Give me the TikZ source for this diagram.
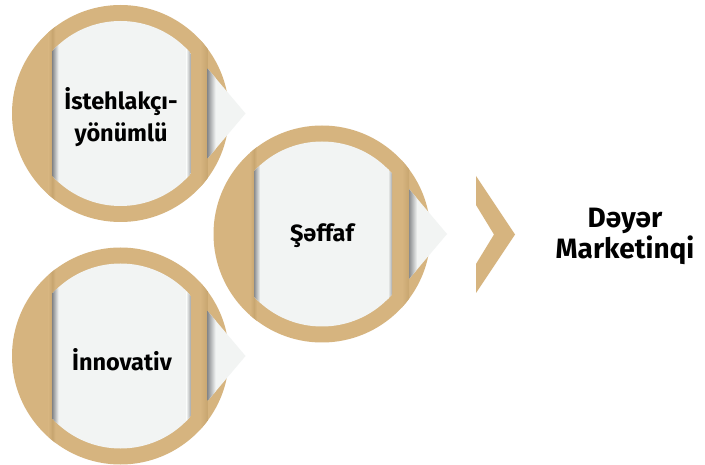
\documentclass[tikz,border=0pt]{standalone}
\usepackage{fontspec}
\setmainfont{Fira Sans}
\newcommand\mypagesize{\fontsize{23.5}{32}\selectfont}
\newcommand\mytitlesize{\fontsize{28}{31}\selectfont}
\definecolor{tanc}{HTML}{D6B47F}
\definecolor{tandark}{HTML}{C8A670}
\definecolor{pagec}{HTML}{F2F4F3}
\definecolor{shadowc}{HTML}{8A8C8E}
\tikzset{
  ringdisc/.style={circle, fill=tanc, minimum size=217pt, inner sep=0pt},
  pagelabel/.style={font=\bfseries\mypagesize, align=center, text=black, inner sep=0pt},
  titlelabel/.style={font=\bfseries\mytitlesize, align=center, text=black, inner sep=0pt},
}
\begin{document}
\begin{tikzpicture}[x=1pt,y=-1pt]
\useasboundingbox (0,0) rectangle (705,465);
\fill[white] (0,0) rectangle (705,465);

\foreach \cx/\cy/\n in {120.5/113.5/1, 322/234/2, 120.5/356/3} {
  \node[ringdisc] (c\n) at (\cx,\cy) {};
  % arrow tip of the page
  \fill[pagec] (\cx+87,\cy-45) -- (\cx+125,\cy) -- (\cx+87,\cy+45) -- cycle;
  % folds on the tan ring
  \begin{scope}
    \clip (\cx,\cy) circle (108.5pt);
    \shade[left color=tanc, right color=tandark] (\cx-72,\cy-110) rectangle (\cx-68,\cy+110);
    \shade[left color=tandark, right color=tanc] (\cx-68,\cy-110) rectangle (\cx-65,\cy+110);
    \shade[left color=tanc, right color=tandark] (\cx+80,\cy-110) rectangle (\cx+87,\cy+110);
  \end{scope}
  % the page
  \begin{scope}
    \clip (\cx,\cy) circle (92.5pt);
    \fill[pagec] (\cx-68,\cy-95) rectangle (\cx+70,\cy+95);
    \shade[left color=shadowc, right color=pagec] (\cx-68,\cy-95) rectangle (\cx-62,\cy+95);
    \shade[left color=pagec, right color=shadowc!70!pagec] (\cx+66,\cy-95) rectangle (\cx+70,\cy+95);
  \end{scope}
  \begin{scope}
    \clip (\cx+87,\cy-45) -- (\cx+125,\cy) -- (\cx+87,\cy+45) -- cycle;
    \shade[left color=shadowc, right color=pagec] (\cx+87,\cy-46) rectangle (\cx+95,\cy+46);
  \end{scope}
}

\node[pagelabel] (t1) at (121,117) {İstehlakçı-\\yönümlü};
\node[pagelabel] (t2) at (322,236) {Şəffaf};
\node[pagelabel] (t3) at (122,360) {İnnovativ};

\fill[tanc] (476,176) -- (515,234.5) -- (476,293) -- (476,264) -- (494,234.5) -- (476,205) -- cycle;

\node[titlelabel] (title) at (625,236) {Dəyər\\Marketinqi};
\end{tikzpicture}
\end{document}
